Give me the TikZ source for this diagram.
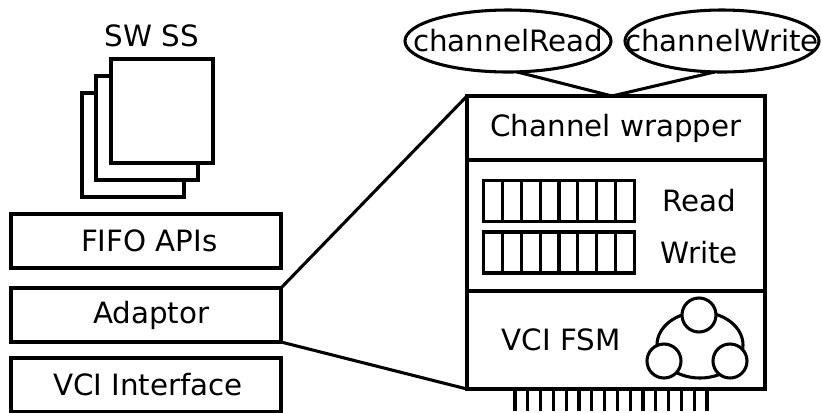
\documentclass[tikz,border=0pt]{standalone}
\usepackage{fontspec}
\setmainfont{DejaVu Sans}
\usetikzlibrary{calc,positioning,shapes.geometric}

\begin{document}
\begin{tikzpicture}[x=0.75pt, y=-0.75pt, line width=2.3pt, every node/.style={font=\fontsize{22}{24}\selectfont, inner sep=0pt, outer sep=0pt}]
    % Define styles for boxes, pages, ellipses and states
    \tikzstyle{block} = [draw, fill=white, rectangle, minimum height=40.5pt, minimum width=202.5pt]
    \tikzstyle{section} = [draw, rectangle, minimum width=223.5pt]
    \tikzstyle{page} = [draw, fill=white, rectangle, minimum height=78pt, minimum width=76.5pt]
    \tikzstyle{method} = [draw, ellipse, minimum height=46.5pt]
    \tikzstyle{fifo} = [draw, rectangle, minimum height=30.75pt, minimum width=113.5pt]
    \tikzstyle{state} = [draw, fill=white, circle, minimum size=25.5pt]

    \useasboundingbox (0,0) rectangle (822,412);

    % Software stack
    \node [page] (page3) at (133,145) {};
    \node [page] (page2) at (147,128) {};
    \node [page] (page1) at (162,111) {};
    \node (swss) at (152,36) {SW SS};

    % Left column
    \node [block] (fifoapis) at (146,241) {\hspace*{5pt}FIFO APIs};
    \node [block, below of=fifoapis, node distance=55.5pt] (adaptor) {\hspace*{8pt}Adaptor};
    \node [block, below of=adaptor, node distance=52.5pt] (vciif) {\hspace*{3pt}VCI Interface};

    % Wrapper sections
    \node [section, minimum height=48pt] (wrapper) at (616,128) {\raisebox{-1pt}{Channel wrapper}};
    \node [section, minimum height=98.25pt] (buffers) at (616,225.5) {};
    \node [section, minimum height=73.5pt] (fsm) at (616,340) {};

    % Channel methods
    \node [method, minimum width=154.5pt] (chread) at (508,41) {\makebox[0pt]{channelRead}};
    \node [method, minimum width=145.5pt] (chwrite) at (722,41) {\makebox[0pt]{channelWrite}};
    \coordinate (join) at (612,96);

    % Read and write FIFOs
    \node [fifo] (readfifo) at (559,201) {};
    \node [fifo] (writefifo) at (559,252.5) {};
    \foreach \i in {1,...,7} {
        \draw ($(readfifo.north west)!\i/8!(readfifo.north east)$) -- ($(readfifo.south west)!\i/8!(readfifo.south east)$);
        \draw ($(writefifo.north west)!\i/8!(writefifo.north east)$) -- ($(writefifo.south west)!\i/8!(writefifo.south east)$);
    }
    \node (readlabel) at (699,201) {Read};
    \node (writelabel) at (699,253) {Write};

    % FSM
    \node (fsmlabel) at (561,340) {VCI FSM};
    \node [draw, ellipse, minimum width=64.5pt, minimum height=49.5pt] (ring) at (700,345) {};
    \node [state] (s1) at (699,315) {};
    \node [state] (s2) at (664,361) {};
    \node [state] (s3) at (730,361) {};

    % Pins under the box
    \foreach \i in {0,...,15} {
        \coordinate (pintop\i) at (515+\i*12.8,389);
        \coordinate (pinend\i) at (515+\i*12.8,411);
        \draw (pintop\i) -- (pinend\i);
    }

    % Zoom lines and method links
    \draw (adaptor.north east) -- (wrapper.north west);
    \draw (adaptor.south east) -- (fsm.south west);
    \draw (chread.-74) -- (join);
    \draw (chwrite.-103) -- (join);
\end{tikzpicture}
\end{document}
